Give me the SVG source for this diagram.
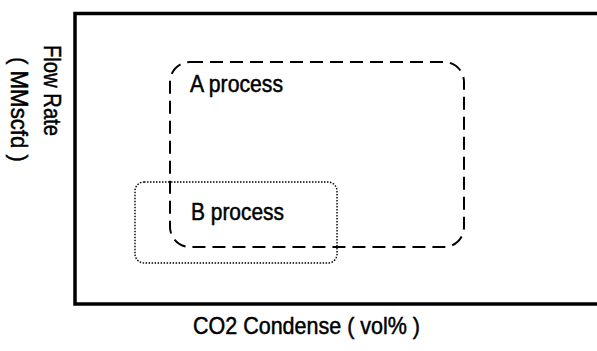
<svg xmlns="http://www.w3.org/2000/svg" width="597" height="351" viewBox="0 0 597 351">
<style>
.t{font-family:"Liberation Sans",sans-serif;font-size:24px;fill:#000;stroke:#000;stroke-width:0.5}
.frame{fill:none;stroke:#000;stroke-width:3.5}
.dash{fill:none;stroke:#000;stroke-width:2;stroke-dasharray:13 7}
.dot{fill:none;stroke:#000;stroke-width:1.4;stroke-dasharray:1.5 1.5}
</style>
<rect width="597" height="351" fill="#fff"/>
<g id="frame"><path class="frame" d="M597 13.5 H75 V304 H597"/></g>
<g id="y-label">
<text class="t" transform="translate(44,45) rotate(90)" textLength="91" lengthAdjust="spacingAndGlyphs">Flow Rate</text>
<text class="t" transform="translate(11,57) rotate(90)" textLength="105" lengthAdjust="spacingAndGlyphs">( MMscfd )</text>
</g>
<g id="x-label"><text class="t" x="193" y="334" textLength="227" lengthAdjust="spacingAndGlyphs">CO2 Condense ( vol% )</text></g>
<g id="A"><rect class="dash" x="170" y="62" width="294" height="185" rx="20" ry="20"/>
<text class="t" x="190" y="92" textLength="93" lengthAdjust="spacingAndGlyphs">A process</text></g>
<g id="B"><rect class="dot" x="135" y="182" width="202" height="81" rx="9" ry="9"/>
<text class="t" x="191" y="220" textLength="93" lengthAdjust="spacingAndGlyphs">B process</text></g>
<g id="connectors"/>
</svg>
